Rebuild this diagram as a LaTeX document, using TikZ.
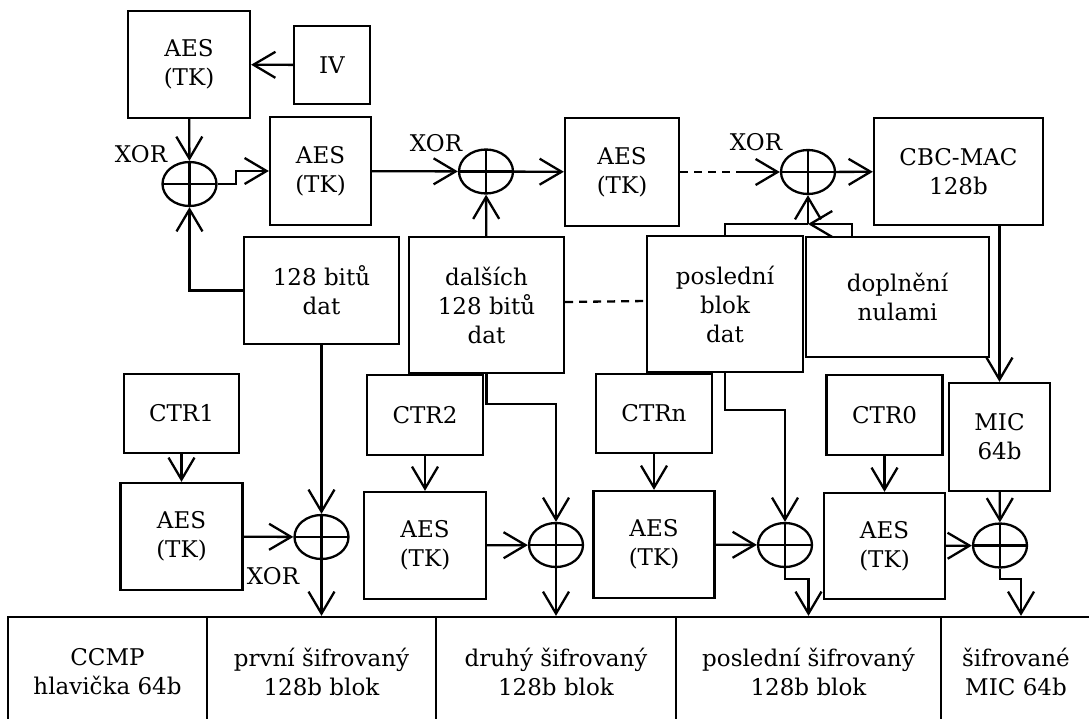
\documentclass[tikz,border=0pt]{standalone}
\usepackage{fontspec}
\setmainfont{DejaVu Serif}
\usetikzlibrary{positioning, shapes.geometric, arrows.meta}

\tikzset{
    blok/.style={draw, align=center, inner sep=2pt},
    xor/.style={draw, ellipse, inner sep=0pt, minimum width=54pt, minimum height=44pt,
        path picture={\draw (path picture bounding box.north) -- (path picture bounding box.south)
            (path picture bounding box.west) -- (path picture bounding box.east);}},
    arr/.style={-{Straight Barb[length=22pt, width=26pt]}},
    tecky/.style={dash pattern=on 8pt off 6pt},
}

\begin{document}
\begin{tikzpicture}[x=1pt, y=-1pt, line width=2.3pt, font=\fontsize{23}{29}\selectfont]
    \useasboundingbox (0,0) rectangle (1089,718);

    % CBC-MAC chain
    \node[blok, minimum width=122pt, minimum height=107pt] (aes1) at (189,64.5) {AES\\(TK)};
    \node[blok, minimum width=76pt, minimum height=78pt] (iv) at (332,65) {IV};
    \node[xor] (x1) at (189.5,184) {};
    \node[blok, minimum width=101pt, minimum height=108pt] (aes2) at (320.5,171) {AES\\(TK)};
    \node[xor] (x2) at (486,171.5) {};
    \node[blok, minimum width=114pt, minimum height=108pt] (aes3) at (622,172) {AES\\(TK)};
    \node[xor] (x3) at (808,172) {};
    \node[blok, minimum width=169pt, minimum height=107pt] (cbc) at (958.5,171.5) {CBC-MAC\\128b};
    \node (xl1) at (141,154) {XOR};
    \node (xl2) at (436,143) {XOR};
    \node (xl3) at (756,142) {XOR};

    % data blocks
    \node[blok, minimum width=155pt, minimum height=107pt] (dat1) at (321.5,290.5) {128 bitů\\dat};
    \node[blok, minimum width=155pt, minimum height=136pt] (dat2) at (486.5,305) {dalších\\128 bitů\\dat};
    \node[blok, minimum width=156pt, minimum height=136pt] (dat3) at (725,304) {poslední\\blok\\dat};
    \node[blok, minimum width=183pt, minimum height=120pt] (nuly) at (897.5,297) {doplnění\\nulami};
    \node[blok, minimum width=101pt, minimum height=108pt] (mic) at (999.5,437) {MIC\\64b};
    \coordinate (spoj) at (808,224);
    \coordinate (d3) at (740,172);

    % CTR mode
    \node[blok, minimum width=122pt, minimum height=107pt] (aesc1) at (181.5,536.5) {AES\\(TK)};
    \node[blok, minimum width=115pt, minimum height=79pt, above=28pt of aesc1] (ctr1) {CTR1};
    \node[xor] (xc1) at (321.5,537) {};
    \node[blok, minimum width=122pt, minimum height=107pt] (aesc2) at (425,545.5) {AES\\(TK)};
    \node[blok, minimum width=116pt, minimum height=80pt, above=35pt of aesc2] (ctr2) {CTR2};
    \node[xor] (xc2) at (556,545) {};
    \node[blok, minimum width=121pt, minimum height=107pt] (aesc3) at (654,544.5) {AES\\(TK)};
    \node[blok, minimum width=116pt, minimum height=79pt, above=36pt of aesc3] (ctrn) {CTRn};
    \node[xor] (xc3) at (785,545) {};
    \node[blok, minimum width=121pt, minimum height=106pt] (aesc4) at (884.5,546) {AES\\(TK)};
    \node[blok, minimum width=116pt, minimum height=80pt, above=36pt of aesc4] (ctr0) {CTR0};
    \node[xor] (xc4) at (1000,545.5) {};
    \node (xl4) at (273,576) {XOR};

    % encrypted frame
    \node[blok, minimum width=199pt, minimum height=110pt] (b1) at (107.5,672) {CCMP\\hlavička 64b};
    \node[blok, minimum width=229pt, minimum height=110pt] (b2) at (321.5,672) {první šifrovaný\\128b blok};
    \node[blok, minimum width=240pt, minimum height=110pt] (b3) at (556,672) {druhý šifrovaný\\128b blok};
    \node[blok, minimum width=265pt, minimum height=110pt] (b4) at (808.5,672) {poslední šifrovaný\\128b blok};
    \node[blok, minimum width=150pt, minimum height=110pt] (b5) at (1016,672) {šifrované\\MIC 64b};

    \path[arr]
        (iv) edge (aes1)
        (aes1) edge (x1)
        (aes2) edge (x2)
        (x2) edge (aes3)
        (x3) edge (cbc)
        (dat2) edge (x2)
        (spoj) edge (x3)
        (d3) edge (x3)
        (dat1) edge (xc1)
        (mic) edge (xc4)
        (ctr1) edge (aesc1)
        (ctr2) edge (aesc2)
        (ctrn) edge (aesc3)
        (ctr0) edge (aesc4)
        (aesc1) edge (xc1)
        (aesc2) edge (xc2)
        (aesc3) edge (xc3)
        (aesc4) edge (xc4)
        (xc1) edge (b2)
        (xc2) edge (b3);

    \draw[arr] (x1.east) -- ++(18,0) |- (aes2.west);
    \draw[arr] (dat1.west) -| (x1.south);
    \draw (dat3.north) |- (spoj);
    \draw[arr] ([xshift=-45.5pt]nuly.north) |- (spoj);
    \draw[arr] (mic.north |- cbc.south) -- (mic.north);
    \draw[arr] (dat2.south) -- ++(0,30) -| (xc2.north);
    \draw[arr] (dat3.south) -- ++(0,37) -| (xc3.north);
    \draw[arr] (xc3.south) -- ++(0,11) -| (b4.north);
    \draw[arr] (xc4.south) -- ++(0,10) -| ([xshift=5pt]b5.north);
    % dashed gaps
    \draw[tecky] (aes3) -- (d3);
    \draw[tecky] ([yshift=3pt]dat2.east) -- ([yshift=3pt]dat3.west);
\end{tikzpicture}
\end{document}
